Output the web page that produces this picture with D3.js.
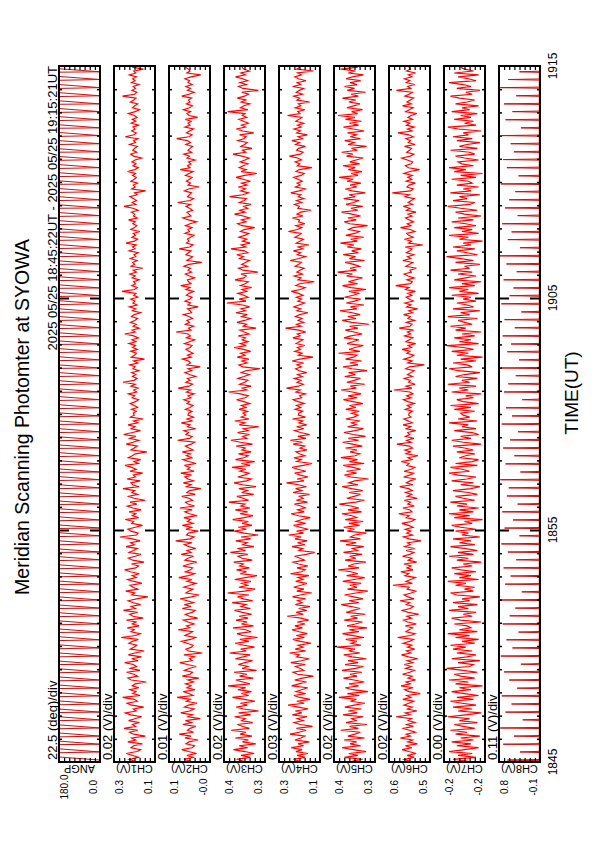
<!DOCTYPE html>
<html>
<head>
<meta charset="utf-8">
<script src="https://cdn.jsdelivr.net/npm/d3@7"></script>
<style>
  body { margin: 0; background: #fff; }
  text { font-family: "Liberation Sans", Arial, sans-serif; fill: #000; }
</style>
</head>
<body>
<script>
// panel names and labels (left = max, right = min)
const names = ["ANGP", "CH1(V)", "CH2(V)", "CH3(V)", "CH4(V)", "CH5(V)", "CH6(V)", "CH7(V)", "CH8(V)"];
const maxLabels = ["180.0", "0.3", "0.1", "0.4", "0.3", "0.4", "0.6", "-0.2", "0.8"];
const minLabels = ["0.0", "0.1", "-0.0", "0.3", "0.1", "0.3", "0.5", "-0.2", "-0.1"];
const divLabels = ["22.5 (deg)/div", "0.02 (V)/div", "0.01 (V)/div", "0.02 (V)/div", "0.03 (V)/div",
  "0.02 (V)/div", "0.02 (V)/div", "0.00 (V)/div", "0.11 (V)/div"];
const domains = [[0, 180], [0.12, 0.28], [-0.004, 0.076], [0.27, 0.43], [0.10, 0.34],
  [0.27, 0.43], [0.47, 0.63], [-0.216, -0.184], [-0.08, 0.80]];

// time axis, seconds after 18:45:00
const timeTicks = [0, 600, 1200, 1800];
const timeLabels = ["1845", "1855", "1905", "1915"];
const header = "2025 05/25 18:45:22UT - 2025 05/25 19:15:21UT";

// scanner sweeps (start second of every scan)
const scanStarts = [5, 26, 46, 67, 88, 109, 129, 150, 171, 191, 212, 233, 253, 274, 295, 316, 336, 357, 378, 398,
  419, 440, 460, 481, 502, 523, 543, 564, 585, 605, 626, 647, 667, 688, 709, 730, 750, 771, 792, 812,
  833, 854, 874, 895, 916, 937, 957, 978, 999, 1019, 1040, 1061, 1081, 1102, 1123, 1144, 1164, 1185, 1206, 1226,
  1247, 1268, 1288, 1309, 1330, 1351, 1371, 1392, 1413, 1433, 1454, 1475, 1495, 1516, 1537, 1558, 1578, 1599, 1620, 1640,
  1661, 1682, 1702, 1723, 1744, 1765, 1785];
// one sweep: [seconds after scan start, angle]
const angpShape = [[0, 0], [8, 180], [19, 180]];

// CH8 calibration spikes, one per scan
const ch8Peaks = [0.62, 0.35, 0.71, 0.48, 0.77, 0.29, 0.66, 0.53, 0.74, 0.41,
  0.58, 0.69, 0.33, 0.76, 0.51, 0.64, 0.38, 0.72, 0.57, 0.45,
  0.78, 0.31, 0.67, 0.55, 0.70, 0.43, 0.61, 0.75, 0.36, 0.68,
  0.50, 0.73, 0.40, 0.63, 0.59, 0.77, 0.34, 0.66, 0.47, 0.71,
  0.56, 0.39, 0.74, 0.52, 0.65, 0.30, 0.69, 0.60, 0.44, 0.76,
  0.37, 0.62, 0.54, 0.72, 0.46, 0.68, 0.32, 0.75, 0.57, 0.49,
  0.70, 0.42, 0.64, 0.78, 0.35, 0.61, 0.53, 0.73, 0.40, 0.67,
  0.58, 0.45, 0.76, 0.38, 0.63, 0.71, 0.48, 0.55, 0.74, 0.33,
  0.66, 0.51, 0.69, 0.43, 0.77, 0.60, 0.36];
const ch8Base = -0.065;

// photometer channels, one sample every 5 s
const sampleStart = 2, sampleStep = 5;
const ch1 = [0.198,0.221,0.184,0.207,0.232,0.191,0.176,0.214,0.203,0.169,
  0.226,0.195,0.211,0.158,0.204,0.219,0.187,0.241,0.196,0.208,
  0.181,0.223,0.199,0.172,0.215,0.236,0.193,0.205,0.164,0.212,
  0.229,0.189,0.201,0.246,0.178,0.207,0.194,0.218,0.183,0.209,
  0.197,0.154,0.213,0.226,0.188,0.202,0.231,0.179,0.216,0.192,
  0.205,0.238,0.186,0.211,0.173,0.224,0.199,0.162,0.217,0.203,
  0.191,0.222,0.208,0.185,0.252,0.196,0.177,0.214,0.201,0.228,
  0.182,0.209,0.194,0.231,0.166,0.206,0.219,0.188,0.243,0.197,
  0.213,0.176,0.204,0.225,0.192,0.148,0.211,0.199,0.234,0.187,
  0.206,0.218,0.171,0.202,0.227,0.193,0.209,0.181,0.216,0.239,
  0.195,0.184,0.212,0.163,0.207,0.224,0.198,0.175,0.221,0.204,
  0.189,0.233,0.201,0.215,0.178,0.208,0.257,0.192,0.186,0.213,
  0.226,0.197,0.169,0.211,0.203,0.236,0.184,0.209,0.195,0.221,
  0.174,0.206,0.228,0.191,0.217,0.159,0.202,0.223,0.188,0.210,
  0.199,0.245,0.183,0.207,0.214,0.178,0.229,0.196,0.205,0.168,
  0.218,0.193,0.211,0.237,0.185,0.202,0.176,0.224,0.209,0.197,
  0.152,0.214,0.201,0.189,0.232,0.206,0.183,0.219,0.195,0.242,
  0.208,0.177,0.213,0.198,0.225,0.187,0.204,0.166,0.216,0.201,
  0.205,0.193,0.212,0.188,0.201,0.217,0.196,0.184,0.209,0.199,
  0.224,0.191,0.203,0.186,0.214,0.197,0.245,0.202,0.190,0.208,
  0.195,0.211,0.183,0.206,0.198,0.219,0.187,0.204,0.161,0.213,
  0.200,0.192,0.215,0.189,0.207,0.196,0.222,0.194,0.210,0.185,
  0.203,0.238,0.197,0.209,0.182,0.205,0.193,0.216,0.199,0.188,
  0.212,0.201,0.176,0.208,0.195,0.220,0.190,0.206,0.198,0.215,
  0.187,0.203,0.194,0.249,0.200,0.189,0.211,0.196,0.204,0.182,
  0.209,0.197,0.218,0.192,0.205,0.168,0.213,0.199,0.207,0.190,
  0.216,0.195,0.202,0.186,0.221,0.198,0.208,0.193,0.233,0.201,
  0.188,0.210,0.196,0.205,0.179,0.214,0.200,0.191,0.207,0.197,
  0.223,0.189,0.204,0.199,0.212,0.186,0.206,0.241,0.195,0.209,
  0.192,0.203,0.218,0.190,0.200,0.157,0.211,0.197,0.205,0.188,
  0.214,0.201,0.193,0.208,0.196,0.227,0.199,0.185,0.206,0.194,
  0.210,0.198,0.172,0.203,0.215,0.191,0.207,0.200,0.189,0.219,
  0.196,0.204,0.187,0.236,0.202,0.193,0.211,0.198,0.206,0.184,
  0.213,0.195,0.209,0.190,0.201,0.224,0.197,0.180,0.208,0.199,
  0.187,0.216,0.203,0.194,0.247,0.200,0.191,0.210,0.196,0.205,
  0.183,0.212,0.198,0.207,0.192,0.220,0.195,0.203,0.165,0.209];
const ch2 = [0.034,0.047,0.029,0.041,0.022,0.038,0.051,0.031,0.026,0.043,
  0.037,0.019,0.045,0.033,0.056,0.028,0.040,0.035,0.024,0.049,
  0.032,0.044,0.015,0.039,0.030,0.053,0.036,0.027,0.046,0.038,
  0.021,0.042,0.034,0.060,0.029,0.037,0.048,0.025,0.041,0.033,
  0.044,0.028,0.039,0.018,0.050,0.035,0.030,0.046,0.037,0.023,
  0.040,0.055,0.031,0.036,0.026,0.047,0.011,0.038,0.043,0.032,
  0.029,0.041,0.052,0.034,0.024,0.045,0.037,0.030,0.058,0.035,
  0.042,0.027,0.039,0.048,0.020,0.036,0.044,0.031,0.025,0.050,
  0.033,0.046,0.028,0.040,0.054,0.032,0.017,0.043,0.037,0.029,
  0.047,0.035,0.023,0.041,0.031,0.057,0.038,0.026,0.044,0.034,
  0.030,0.049,0.036,0.022,0.045,0.039,0.028,0.052,0.033,0.041,
  0.024,0.037,0.046,0.031,0.063,0.035,0.027,0.042,0.038,0.019,
  0.043,0.032,0.050,0.029,0.040,0.034,0.047,0.021,0.036,0.045,
  0.031,0.055,0.026,0.039,0.044,0.030,0.037,0.051,0.025,0.041,
  0.036,0.014,0.042,0.033,0.048,0.028,0.039,0.045,0.032,0.053,
  0.027,0.040,0.035,0.046,0.023,0.038,0.049,0.030,0.042,0.034,
  0.050,0.029,0.037,0.044,0.033,0.026,0.059,0.036,0.031,0.043,
  0.038,0.047,0.024,0.040,0.035,0.052,0.030,0.041,0.028,0.039,
  0.038,0.031,0.044,0.035,0.029,0.041,0.036,0.047,0.033,0.039,
  0.027,0.042,0.034,0.058,0.037,0.030,0.043,0.035,0.040,0.024,
  0.036,0.045,0.032,0.039,0.015,0.041,0.034,0.038,0.050,0.033,
  0.040,0.029,0.037,0.043,0.035,0.031,0.046,0.036,0.026,0.042,
  0.034,0.039,0.062,0.033,0.038,0.028,0.044,0.036,0.041,0.030,
  0.037,0.048,0.032,0.035,0.040,0.019,0.039,0.034,0.045,0.036,
  0.031,0.042,0.037,0.028,0.043,0.035,0.053,0.033,0.038,0.040,
  0.026,0.036,0.044,0.032,0.039,0.034,0.047,0.037,0.012,0.041,
  0.035,0.030,0.043,0.038,0.033,0.056,0.036,0.029,0.042,0.037,
  0.040,0.034,0.027,0.045,0.036,0.039,0.031,0.044,0.035,0.022,
  0.038,0.049,0.033,0.037,0.041,0.030,0.036,0.043,0.034,0.059,
  0.035,0.028,0.040,0.036,0.032,0.046,0.038,0.017,0.039,0.034,
  0.042,0.036,0.031,0.044,0.037,0.029,0.054,0.035,0.040,0.033,
  0.038,0.025,0.041,0.036,0.047,0.032,0.039,0.035,0.030,0.043,
  0.034,0.040,0.061,0.037,0.031,0.042,0.036,0.028,0.045,0.035,
  0.039,0.033,0.044,0.020,0.037,0.041,0.034,0.048,0.036,0.030,
  0.042,0.035,0.038,0.032,0.051,0.037,0.027,0.040,0.034,0.043,
  0.031,0.039,0.036,0.045,0.033,0.014,0.041,0.035,0.038,0.044];
const ch3 = [0.352,0.381,0.327,0.364,0.312,0.349,0.393,0.338,0.371,0.306,
  0.358,0.335,0.386,0.321,0.367,0.344,0.402,0.331,0.356,0.378,
  0.318,0.361,0.347,0.389,0.326,0.373,0.295,0.354,0.382,0.339,
  0.366,0.309,0.351,0.397,0.334,0.362,0.323,0.376,0.345,0.414,
  0.329,0.357,0.384,0.316,0.369,0.341,0.391,0.303,0.359,0.337,
  0.374,0.348,0.319,0.386,0.355,0.328,0.408,0.343,0.365,0.311,
  0.353,0.387,0.332,0.368,0.299,0.357,0.379,0.324,0.346,0.395,
  0.315,0.362,0.340,0.383,0.336,0.371,0.322,0.358,0.389,0.327,
  0.363,0.344,0.398,0.318,0.354,0.377,0.333,0.416,0.349,0.308,
  0.372,0.338,0.361,0.325,0.388,0.347,0.301,0.366,0.342,0.381,
  0.331,0.369,0.355,0.392,0.320,0.359,0.375,0.337,0.405,0.346,
  0.378,0.313,0.357,0.340,0.384,0.326,0.363,0.297,0.352,0.390,
  0.343,0.374,0.321,0.360,0.335,0.396,0.350,0.317,0.367,0.338,
  0.386,0.329,0.364,0.348,0.411,0.334,0.356,0.380,0.314,0.361,
  0.339,0.372,0.305,0.358,0.391,0.342,0.323,0.376,0.351,0.332,
  0.368,0.345,0.399,0.328,0.362,0.310,0.385,0.353,0.336,0.373,
  0.324,0.360,0.347,0.382,0.319,0.366,0.403,0.341,0.357,0.330,
  0.377,0.337,0.355,0.294,0.370,0.348,0.388,0.333,0.363,0.345,
  0.356,0.338,0.371,0.344,0.362,0.329,0.353,0.381,0.347,0.335,
  0.366,0.412,0.341,0.358,0.324,0.369,0.349,0.337,0.375,0.352,
  0.331,0.363,0.345,0.289,0.357,0.372,0.340,0.360,0.333,0.378,
  0.348,0.365,0.326,0.354,0.391,0.343,0.367,0.336,0.359,0.346,
  0.374,0.332,0.351,0.368,0.305,0.355,0.342,0.379,0.350,0.327,
  0.361,0.339,0.384,0.347,0.364,0.330,0.357,0.419,0.344,0.371,
  0.336,0.353,0.376,0.341,0.360,0.322,0.366,0.348,0.335,0.387,
  0.352,0.343,0.364,0.298,0.356,0.373,0.339,0.361,0.346,0.331,
  0.369,0.354,0.380,0.337,0.350,0.403,0.345,0.363,0.328,0.358,
  0.341,0.372,0.349,0.333,0.366,0.352,0.310,0.359,0.377,0.344,
  0.362,0.330,0.355,0.389,0.347,0.368,0.338,0.353,0.325,0.370,
  0.351,0.342,0.408,0.357,0.334,0.365,0.346,0.374,0.340,0.361,
  0.327,0.356,0.383,0.349,0.302,0.363,0.343,0.371,0.355,0.336,
  0.367,0.348,0.332,0.360,0.395,0.345,0.358,0.321,0.364,0.350,
  0.339,0.376,0.353,0.344,0.369,0.314,0.357,0.382,0.346,0.362,
  0.335,0.354,0.372,0.341,0.359,0.348,0.416,0.337,0.366,0.352,
  0.329,0.363,0.345,0.378,0.350,0.334,0.361,0.296,0.356,0.373,
  0.343,0.368,0.338,0.357,0.385,0.347,0.364,0.331,0.353,0.360];
const ch4 = [0.218,0.256,0.187,0.234,0.171,0.241,0.205,0.268,0.196,0.229,
  0.163,0.247,0.212,0.189,0.275,0.223,0.181,0.238,0.144,0.215,
  0.251,0.198,0.233,0.176,0.262,0.207,0.244,0.169,0.226,0.287,
  0.193,0.236,0.158,0.219,0.253,0.184,0.241,0.208,0.172,0.266,
  0.224,0.179,0.248,0.202,0.139,0.231,0.257,0.195,0.214,0.243,
  0.186,0.271,0.209,0.164,0.237,0.221,0.278,0.183,0.245,0.199,
  0.228,0.152,0.216,0.259,0.191,0.239,0.174,0.222,0.264,0.203,
  0.247,0.188,0.233,0.167,0.211,0.292,0.197,0.239,0.178,0.225,
  0.159,0.244,0.206,0.231,0.185,0.261,0.217,0.148,0.236,0.194,
  0.254,0.213,0.177,0.242,0.199,0.229,0.165,0.272,0.208,0.187,
  0.235,0.171,0.226,0.258,0.192,0.215,0.249,0.181,0.131,0.223,
  0.201,0.264,0.189,0.232,0.175,0.246,0.210,0.283,0.196,0.237,
  0.168,0.218,0.255,0.184,0.240,0.205,0.157,0.227,0.269,0.192,
  0.231,0.186,0.212,0.250,0.173,0.238,0.199,0.221,0.162,0.258,
  0.207,0.243,0.180,0.226,0.296,0.194,0.234,0.170,0.215,0.248,
  0.183,0.229,0.263,0.198,0.146,0.236,0.209,0.252,0.188,0.220,
  0.241,0.176,0.217,0.190,0.257,0.203,0.274,0.182,0.230,0.161,
  0.214,0.249,0.195,0.237,0.178,0.224,0.200,0.261,0.185,0.227,
  0.224,0.201,0.246,0.213,0.238,0.192,0.229,0.257,0.207,0.219,
  0.185,0.241,0.216,0.296,0.226,0.198,0.234,0.211,0.250,0.204,
  0.231,0.178,0.222,0.243,0.209,0.236,0.195,0.263,0.218,0.141,
  0.227,0.205,0.248,0.214,0.232,0.189,0.240,0.221,0.200,0.259,
  0.216,0.233,0.183,0.225,0.302,0.210,0.237,0.196,0.228,0.206,
  0.244,0.219,0.171,0.235,0.212,0.253,0.223,0.190,0.230,0.208,
  0.239,0.199,0.226,0.268,0.215,0.187,0.242,0.220,0.133,0.229,
  0.211,0.251,0.203,0.236,0.218,0.193,0.245,0.225,0.209,0.274,
  0.222,0.184,0.233,0.214,0.256,0.201,0.228,0.165,0.239,0.217,
  0.197,0.247,0.224,0.210,0.285,0.232,0.206,0.241,0.188,0.226,
  0.219,0.262,0.200,0.235,0.213,0.152,0.230,0.221,0.249,0.207,
  0.238,0.194,0.227,0.212,0.271,0.223,0.181,0.244,0.216,0.234,
  0.204,0.229,0.255,0.211,0.192,0.240,0.222,0.147,0.233,0.218,
  0.246,0.208,0.231,0.279,0.215,0.199,0.237,0.225,0.186,0.243,
  0.220,0.265,0.203,0.228,0.174,0.236,0.214,0.252,0.210,0.232,
  0.195,0.241,0.223,0.206,0.290,0.217,0.230,0.189,0.245,0.212,
  0.227,0.160,0.235,0.219,0.254,0.202,0.239,0.221,0.196,0.260,
  0.213,0.234,0.182,0.226,0.248,0.209,0.231,0.138,0.237,0.218];
const ch5 = [0.361,0.318,0.389,0.337,0.372,0.305,0.354,0.398,0.326,0.367,
  0.342,0.391,0.311,0.376,0.349,0.327,0.404,0.335,0.369,0.302,
  0.383,0.344,0.361,0.316,0.395,0.339,0.374,0.323,0.388,0.351,
  0.309,0.366,0.343,0.411,0.331,0.378,0.297,0.357,0.386,0.334,
  0.371,0.312,0.352,0.393,0.340,0.367,0.321,0.399,0.346,0.315,
  0.387,0.336,0.375,0.304,0.360,0.392,0.329,0.372,0.348,0.418,
  0.325,0.363,0.341,0.384,0.313,0.356,0.397,0.333,0.370,0.301,
  0.379,0.347,0.319,0.390,0.338,0.365,0.308,0.382,0.355,0.328,
  0.362,0.402,0.334,0.371,0.317,0.353,0.389,0.344,0.298,0.377,
  0.340,0.368,0.324,0.396,0.351,0.310,0.381,0.337,0.364,0.413,
  0.332,0.375,0.353,0.306,0.387,0.345,0.369,0.320,0.393,0.339,
  0.358,0.314,0.383,0.343,0.407,0.327,0.366,0.349,0.303,0.378,
  0.350,0.392,0.330,0.372,0.316,0.386,0.341,0.360,0.399,0.322,
  0.376,0.333,0.364,0.409,0.345,0.311,0.380,0.352,0.327,0.371,
  0.318,0.361,0.398,0.336,0.373,0.349,0.295,0.365,0.389,0.342,
  0.381,0.326,0.356,0.394,0.312,0.370,0.338,0.403,0.347,0.329,
  0.367,0.340,0.385,0.320,0.359,0.396,0.334,0.374,0.307,0.355,
  0.391,0.348,0.315,0.377,0.343,0.362,0.328,0.384,0.352,0.336,
  0.362,0.331,0.384,0.345,0.370,0.317,0.356,0.393,0.339,0.375,
  0.324,0.358,0.402,0.343,0.366,0.310,0.380,0.351,0.327,0.388,
  0.347,0.373,0.301,0.360,0.395,0.336,0.368,0.322,0.385,0.354,
  0.340,0.412,0.329,0.371,0.348,0.315,0.379,0.357,0.333,0.391,
  0.364,0.320,0.352,0.386,0.337,0.369,0.294,0.361,0.398,0.344,
  0.376,0.328,0.359,0.407,0.341,0.366,0.313,0.382,0.350,0.326,
  0.389,0.355,0.334,0.372,0.305,0.363,0.397,0.338,0.374,0.347,
  0.319,0.381,0.358,0.416,0.342,0.367,0.330,0.353,0.387,0.311,
  0.370,0.346,0.394,0.335,0.361,0.323,0.378,0.352,0.405,0.339,
  0.365,0.314,0.384,0.349,0.331,0.373,0.357,0.299,0.369,0.390,
  0.343,0.376,0.326,0.360,0.401,0.337,0.364,0.318,0.383,0.354,
  0.332,0.392,0.348,0.371,0.308,0.359,0.386,0.341,0.367,0.325,
  0.379,0.355,0.410,0.336,0.363,0.321,0.374,0.347,0.395,0.330,
  0.368,0.344,0.316,0.381,0.357,0.400,0.339,0.362,0.303,0.375,
  0.351,0.388,0.327,0.366,0.342,0.377,0.312,0.356,0.393,0.334,
  0.370,0.323,0.385,0.348,0.414,0.338,0.361,0.319,0.380,0.353,
  0.329,0.372,0.345,0.397,0.335,0.364,0.307,0.378,0.350,0.389,
  0.340,0.367,0.326,0.383,0.358,0.315,0.374,0.346,0.403,0.337];
const ch6 = [0.548,0.571,0.532,0.559,0.524,0.553,0.579,0.541,0.566,0.519,
  0.557,0.538,0.586,0.546,0.563,0.527,0.551,0.574,0.535,0.561,
  0.529,0.555,0.542,0.602,0.548,0.567,0.521,0.558,0.539,0.572,
  0.553,0.533,0.576,0.544,0.561,0.508,0.552,0.569,0.536,0.583,
  0.547,0.563,0.526,0.556,0.540,0.577,0.549,0.531,0.565,0.543,
  0.570,0.537,0.559,0.518,0.554,0.581,0.545,0.562,0.530,0.558,
  0.541,0.575,0.550,0.534,0.596,0.546,0.528,0.564,0.552,0.538,
  0.566,0.523,0.557,0.573,0.542,0.560,0.514,0.555,0.578,0.547,
  0.535,0.562,0.549,0.587,0.532,0.556,0.571,0.543,0.525,0.559,
  0.551,0.615,0.539,0.564,0.545,0.527,0.568,0.553,0.584,0.536,
  0.560,0.544,0.572,0.522,0.555,0.541,0.577,0.549,0.533,0.563,
  0.530,0.569,0.547,0.558,0.505,0.552,0.574,0.538,0.561,0.545,
  0.567,0.536,0.554,0.580,0.543,0.529,0.563,0.551,0.592,0.540,
  0.548,0.576,0.531,0.557,0.546,0.570,0.520,0.559,0.542,0.565,
  0.539,0.554,0.588,0.537,0.562,0.548,0.525,0.573,0.550,0.534,
  0.571,0.544,0.529,0.560,0.552,0.582,0.540,0.556,0.517,0.564,
  0.546,0.568,0.538,0.551,0.599,0.543,0.561,0.533,0.566,0.549,
  0.557,0.526,0.563,0.545,0.575,0.539,0.555,0.572,0.544,0.553,
  0.552,0.538,0.567,0.545,0.559,0.531,0.556,0.574,0.543,0.561,
  0.536,0.549,0.611,0.541,0.563,0.528,0.554,0.547,0.570,0.539,
  0.558,0.544,0.532,0.565,0.550,0.492,0.557,0.540,0.572,0.546,
  0.533,0.560,0.548,0.579,0.542,0.555,0.526,0.564,0.551,0.537,
  0.569,0.545,0.558,0.534,0.590,0.549,0.540,0.562,0.530,0.556,
  0.547,0.573,0.538,0.553,0.519,0.561,0.544,0.568,0.535,0.550,
  0.563,0.541,0.557,0.527,0.566,0.552,0.604,0.546,0.539,0.560,
  0.532,0.555,0.571,0.543,0.548,0.523,0.564,0.550,0.537,0.576,
  0.545,0.558,0.533,0.562,0.549,0.540,0.567,0.498,0.554,0.542,
  0.570,0.536,0.553,0.561,0.529,0.547,0.585,0.544,0.559,0.534,
  0.551,0.565,0.540,0.556,0.525,0.562,0.548,0.574,0.538,0.555,
  0.543,0.531,0.568,0.550,0.617,0.546,0.535,0.560,0.552,0.527,
  0.563,0.541,0.557,0.539,0.572,0.548,0.511,0.554,0.566,0.544,
  0.537,0.559,0.580,0.547,0.533,0.561,0.550,0.542,0.569,0.528,
  0.555,0.546,0.564,0.535,0.553,0.595,0.540,0.558,0.531,0.562,
  0.549,0.572,0.538,0.556,0.544,0.521,0.565,0.551,0.536,0.577,
  0.543,0.560,0.547,0.534,0.568,0.552,0.539,0.601,0.545,0.557,
  0.530,0.563,0.549,0.570,0.541,0.555,0.526,0.561,0.546,0.553];
const ch7 = [-0.203,-0.191,-0.209,-0.195,-0.206,-0.188,-0.200,-0.211,-0.194,-0.205,
  -0.190,-0.207,-0.197,-0.212,-0.193,-0.202,-0.189,-0.208,-0.199,-0.192,
  -0.210,-0.196,-0.204,-0.187,-0.201,-0.213,-0.195,-0.206,-0.191,-0.209,
  -0.198,-0.189,-0.207,-0.194,-0.211,-0.200,-0.190,-0.205,-0.196,-0.214,
  -0.193,-0.203,-0.188,-0.208,-0.197,-0.192,-0.210,-0.199,-0.186,-0.204,
  -0.207,-0.195,-0.212,-0.190,-0.202,-0.209,-0.194,-0.206,-0.191,-0.201,
  -0.189,-0.208,-0.198,-0.211,-0.193,-0.204,-0.187,-0.210,-0.196,-0.205,
  -0.202,-0.192,-0.213,-0.197,-0.190,-0.206,-0.199,-0.209,-0.188,-0.203,
  -0.195,-0.210,-0.191,-0.204,-0.198,-0.212,-0.194,-0.189,-0.207,-0.200,
  -0.208,-0.193,-0.201,-0.187,-0.211,-0.196,-0.205,-0.192,-0.209,-0.197,
  -0.190,-0.206,-0.199,-0.213,-0.194,-0.203,-0.188,-0.207,-0.195,-0.210,
  -0.201,-0.189,-0.208,-0.196,-0.205,-0.191,-0.212,-0.198,-0.203,-0.193,
  -0.209,-0.197,-0.190,-0.206,-0.200,-0.214,-0.192,-0.204,-0.188,-0.207,
  -0.196,-0.211,-0.194,-0.202,-0.189,-0.208,-0.199,-0.193,-0.210,-0.203,
  -0.191,-0.205,-0.212,-0.197,-0.207,-0.190,-0.202,-0.209,-0.195,-0.188,
  -0.204,-0.198,-0.189,-0.210,-0.193,-0.206,-0.211,-0.196,-0.201,-0.208,
  -0.194,-0.207,-0.200,-0.191,-0.213,-0.199,-0.190,-0.205,-0.197,-0.211,
  -0.206,-0.192,-0.209,-0.198,-0.203,-0.188,-0.210,-0.195,-0.204,-0.199,
  -0.197,-0.208,-0.192,-0.205,-0.189,-0.211,-0.199,-0.194,-0.207,-0.201,
  -0.213,-0.190,-0.203,-0.196,-0.209,-0.187,-0.204,-0.198,-0.210,-0.193,
  -0.200,-0.212,-0.195,-0.188,-0.206,-0.202,-0.191,-0.209,-0.197,-0.214,
  -0.194,-0.203,-0.190,-0.207,-0.199,-0.186,-0.211,-0.196,-0.205,-0.192,
  -0.208,-0.198,-0.213,-0.193,-0.201,-0.189,-0.206,-0.200,-0.195,-0.210,
  -0.187,-0.204,-0.197,-0.212,-0.191,-0.207,-0.202,-0.194,-0.209,-0.199,
  -0.205,-0.190,-0.211,-0.196,-0.203,-0.188,-0.208,-0.198,-0.213,-0.192,
  -0.201,-0.209,-0.195,-0.206,-0.189,-0.204,-0.200,-0.212,-0.193,-0.207,
  -0.197,-0.186,-0.210,-0.202,-0.194,-0.208,-0.191,-0.205,-0.199,-0.214,
  -0.196,-0.203,-0.188,-0.211,-0.198,-0.206,-0.192,-0.209,-0.201,-0.190,
  -0.207,-0.195,-0.213,-0.200,-0.193,-0.210,-0.197,-0.187,-0.204,-0.208,
  -0.191,-0.202,-0.196,-0.212,-0.189,-0.205,-0.199,-0.211,-0.194,-0.206,
  -0.203,-0.190,-0.209,-0.197,-0.214,-0.192,-0.201,-0.188,-0.207,-0.198,
  -0.195,-0.211,-0.200,-0.193,-0.208,-0.204,-0.189,-0.210,-0.196,-0.202,
  -0.212,-0.194,-0.206,-0.191,-0.203,-0.199,-0.213,-0.195,-0.187,-0.209,
  -0.200,-0.207,-0.192,-0.205,-0.197,-0.210,-0.190,-0.204,-0.198,-0.211,
  -0.193,-0.202,-0.208,-0.196,-0.189,-0.206,-0.201,-0.212,-0.194,-0.205,
  -0.199,-0.188,-0.209,-0.203,-0.195,-0.211,-0.192,-0.207,-0.200,-0.197];

// build [second, value] series for every panel
const series = [];
series.push(scanStarts.flatMap(s => angpShape.map(([dt, v]) => [s + dt, v])));
[ch1, ch2, ch3, ch4, ch5, ch6, ch7].forEach(arr =>
  series.push(arr.map((v, i) => [sampleStart + i * sampleStep, v])));
series.push(scanStarts.flatMap((s, i) => [[s - 1.5, ch8Base], [s, ch8Peaks[i]], [s + 1.5, ch8Base]]));

const width = 595, height = 842;
const plotTop = 66, plotBottom = 762;

const svg = d3.select("body").append("svg")
  .attr("width", width)
  .attr("height", height);

// time runs bottom -> top
const y = d3.scaleLinear().domain([0, 1800]).range([plotBottom, plotTop]);
const band = d3.scaleBand().domain(names).range([59, 540]).paddingInner(14 / 55);
const w = band.bandwidth();

const minorTicks = d3.range(60, 1800, 60).filter(s => s % 600 !== 0);
const majorTicks = [600, 1200];

names.forEach((name, i) => {
  const x0 = band(name);
  const xv = d3.scaleLinear().domain(domains[i]).range([x0 + w, x0]);
  const g = svg.append("g");

  g.append("clipPath").attr("id", "clip" + i)
    .append("rect")
    .attr("x", x0).attr("y", plotTop)
    .attr("width", w).attr("height", plotBottom - plotTop);

  // data trace
  g.append("path")
    .datum(series[i])
    .attr("clip-path", `url(#clip${i})`)
    .attr("fill", "none")
    .attr("stroke", (i === 0 || i === 8) ? "#cc1010" : "#ff0000")
    .attr("stroke-width", (i === 0 || i === 8) ? 1 : 1.15)
    .attr("d", d3.line().x(d => xv(d[1])).y(d => y(d[0])));

  // time ticks on both edges, pointing inward
  [[minorTicks, 3, 1.5], [majorTicks, 10, 2]].forEach(([vals, len, sw]) => {
    g.append("g").attr("transform", `translate(${x0},0)`)
      .call(d3.axisLeft(y).tickValues(vals).tickSize(-len).tickFormat(""))
      .call(a => a.select(".domain").remove())
      .selectAll("line").attr("stroke-width", sw);
    g.append("g").attr("transform", `translate(${x0 + w},0)`)
      .call(d3.axisRight(y).tickValues(vals).tickSize(-len).tickFormat(""))
      .call(a => a.select(".domain").remove())
      .selectAll("line").attr("stroke-width", sw);
  });

  // value divisions on top and bottom edges
  const [lo, hi] = domains[i];
  const divs = d3.range(1, 8).map(k => lo + (hi - lo) * k / 8);
  g.append("g").attr("transform", `translate(0,${plotBottom})`)
    .call(d3.axisBottom(xv).tickValues(divs).tickSize(-4).tickFormat(""))
    .call(a => a.select(".domain").remove())
    .selectAll("line").attr("stroke-width", 1.2);
  g.append("g").attr("transform", `translate(0,${plotTop})`)
    .call(d3.axisTop(xv).tickValues(divs).tickSize(-4).tickFormat(""))
    .call(a => a.select(".domain").remove())
    .selectAll("line").attr("stroke-width", 1.2);

  // frame
  g.append("rect")
    .attr("x", x0).attr("y", plotTop)
    .attr("width", w).attr("height", plotBottom - plotTop)
    .attr("fill", "none").attr("stroke", "#000").attr("stroke-width", 2);

  // labels
  g.append("text")
    .attr("transform", `translate(${x0 - 2},${plotBottom - 2}) rotate(-90)`)
    .attr("font-size", 13)
    .text(divLabels[i]);
  g.append("text")
    .attr("transform", `translate(${x0 + w / 2},${plotBottom + 3}) rotate(180)`)
    .attr("text-anchor", "middle")
    .attr("font-size", 11)
    .text(name);
  g.append("text")
    .attr("transform", `translate(${x0 + 9},787) rotate(-90)`)
    .attr("text-anchor", "middle")
    .attr("font-size", 10)
    .text(maxLabels[i]);
  g.append("text")
    .attr("transform", `translate(${x0 + 38},787) rotate(-90)`)
    .attr("text-anchor", "middle")
    .attr("font-size", 10)
    .text(minLabels[i]);
});

// time labels
svg.selectAll(".tlabel")
  .data(timeTicks)
  .enter().append("text")
  .attr("class", "tlabel")
  .attr("transform", d => `translate(557,${y(d)}) rotate(-90)`)
  .attr("text-anchor", "middle")
  .attr("font-size", 12)
  .text((d, i) => timeLabels[i]);

svg.append("text")
  .attr("transform", "translate(578,393) rotate(-90)")
  .attr("text-anchor", "middle")
  .attr("font-size", 19)
  .text("TIME(UT)");

svg.append("text")
  .attr("transform", `translate(57,${plotTop}) rotate(-90)`)
  .attr("text-anchor", "end")
  .attr("font-size", 13)
  .text(header);

svg.append("text")
  .attr("transform", "translate(28.5,417) rotate(-90)")
  .attr("text-anchor", "middle")
  .attr("font-size", 19.5)
  .text("Meridian Scanning Photomter at SYOWA");
</script>
</body>
</html>
